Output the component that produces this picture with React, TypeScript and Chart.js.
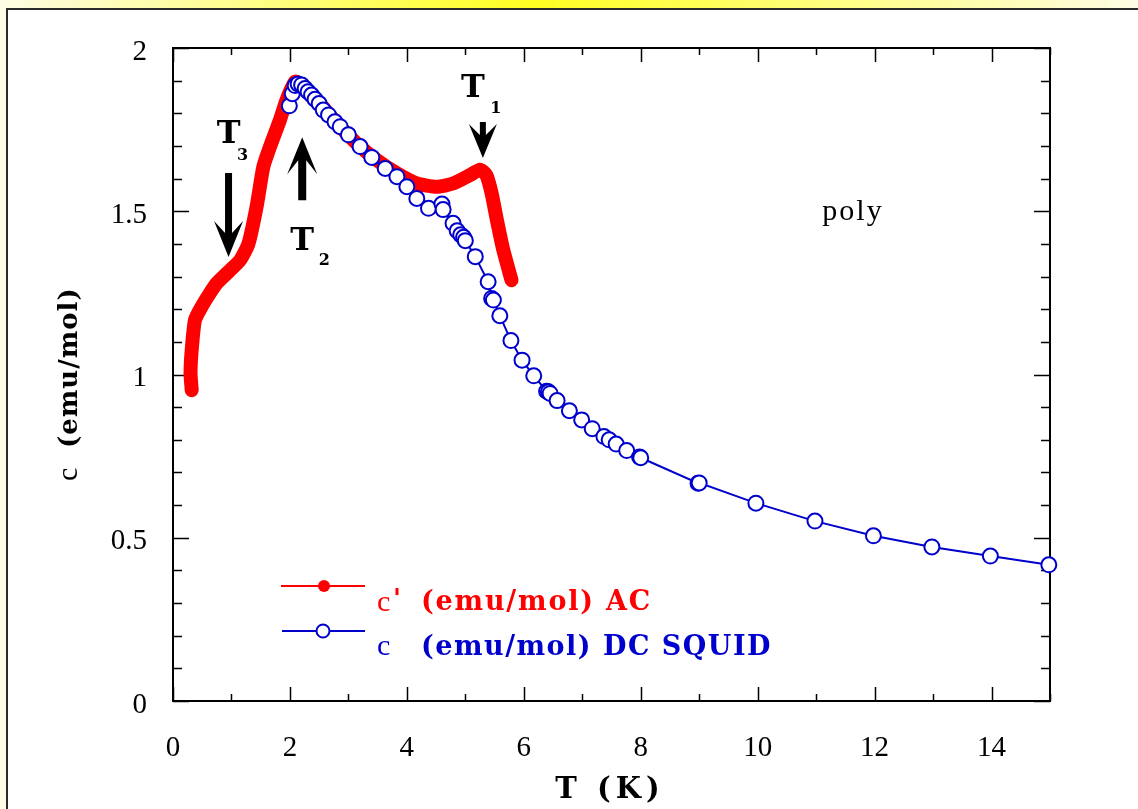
import React, { useEffect, useRef } from "react";
import { Chart, registerables } from "chart.js";

Chart.register(...registerables);

// ---- data ----
const acT = [0.32, 0.3, 0.32, 0.376, 0.49, 0.63, 0.75, 0.95, 1.146, 1.29, 1.43, 1.545, 1.66, 1.83, 1.94, 2.09, 2.23, 2.51, 2.8, 3.14, 3.48, 3.83, 4.17, 4.51, 4.79, 5.08, 5.25, 5.36, 5.45, 5.54, 5.65, 5.79];
const acChi = [0.952, 1.004, 1.075, 1.167, 1.208, 1.249, 1.28, 1.315, 1.35, 1.4, 1.514, 1.636, 1.698, 1.78, 1.84, 1.897, 1.88, 1.83, 1.77, 1.708, 1.657, 1.616, 1.585, 1.575, 1.585, 1.611, 1.627, 1.611, 1.555, 1.473, 1.381, 1.289];

const dcT = [1.99, 2.04, 2.09, 2.14, 2.2, 2.26, 2.31, 2.37, 2.43, 2.5, 2.57, 2.66, 2.77, 2.86, 3.0, 3.2, 3.4, 3.63, 3.83, 4.0, 4.17, 4.37, 4.6, 4.62, 4.79, 4.86, 4.92, 4.97, 5.0, 5.17, 5.39, 5.45, 5.48, 5.59, 5.78, 5.97, 6.17, 6.39, 6.42, 6.45, 6.57, 6.78, 6.99, 7.17, 7.37, 7.46, 7.58, 7.76, 7.98, 8.0, 8.98, 9.0, 9.97, 10.98, 11.98, 12.98, 13.98, 14.98];
const dcChi = [1.823, 1.86, 1.885, 1.89, 1.887, 1.876, 1.866, 1.856, 1.843, 1.83, 1.81, 1.795, 1.774, 1.759, 1.734, 1.698, 1.665, 1.631, 1.606, 1.575, 1.539, 1.509, 1.522, 1.505, 1.463, 1.44, 1.428, 1.42, 1.41, 1.361, 1.284, 1.233, 1.228, 1.18, 1.104, 1.044, 0.996, 0.949, 0.947, 0.942, 0.92, 0.889, 0.861, 0.834, 0.81, 0.8, 0.787, 0.767, 0.747, 0.745, 0.667, 0.668, 0.606, 0.551, 0.506, 0.472, 0.444, 0.417];

const xTickValues = [0, 2, 4, 6, 8, 10, 12, 14];
const yTickValues = [0, 0.5, 1, 1.5, 2];
const xTitle = "T (K)";
const yTitleSymbol = "c";
const yTitleRest = "(emu/mol)";
const legendAC = "(emu/mol) AC";
const legendDC = "(emu/mol) DC SQUID";
const sampleLabel = "poly";

// transitions: label, subscript, arrow tip (T, chi), direction
const transitions = [
  { name: "T", sub: "3", tipT: 0.95, tipChi: 1.36, dir: "down" },
  { name: "T", sub: "2", tipT: 2.21, tipChi: 1.727, dir: "up" },
  { name: "T", sub: "1", tipT: 5.3, tipChi: 1.663, dir: "down" },
];

// pixel styling of the annotations (relative to arrow tip)
const annoStyle = [
  { tx: 0, ty: -114, sx: 14, sy: -97, w: 3.5, L: 84, n: 24, b: 14.5, bY: 36 },
  { tx: 0, ty: 113, sx: 22, sy: 128, w: 4, L: 63, n: 23, b: 15, bY: 37 },
  { tx: -10, ty: -61, sx: 13, sy: -45, w: 3, L: 36, n: 23, b: 14, bY: 34 },
];

const RED = "#ff0000";
const BLUE = "#0000cc";
const SERIF = '"Liberation Serif", "Times New Roman", serif';
const BOLDSERIF = '"DejaVu Serif", "Liberation Serif", serif';

const framePlugin = {
  id: "frame",
  beforeDraw(chart: any) {
    const { ctx, width, height } = chart;
    ctx.save();
    ctx.fillStyle = "#ffffff";
    ctx.fillRect(0, 0, width, height);
    const g = ctx.createLinearGradient(0, 0, width, 0);
    g.addColorStop(0, "#fdfce4");
    g.addColorStop(0.47, "#ffff22");
    g.addColorStop(1, "#fdfce4");
    ctx.fillStyle = g;
    ctx.fillRect(0, 0, width, 8);
    ctx.fillStyle = "#fdfce4";
    ctx.fillRect(0, 0, 6, height);
    ctx.strokeStyle = "#2a2a2a";
    ctx.lineWidth = 2;
    ctx.beginPath();
    ctx.moveTo(7, height + 5);
    ctx.lineTo(7, 9);
    ctx.lineTo(width + 5, 9);
    ctx.stroke();
    ctx.restore();
  },
  beforeDatasetsDraw(chart: any) {
    const { ctx, chartArea, scales } = chart;
    const { left, right, top, bottom } = chartArea;
    const x = scales.x;
    const y = scales.y;
    ctx.save();
    ctx.strokeStyle = "#000";
    ctx.lineWidth = 2;
    ctx.strokeRect(left, top, right - left, bottom - top);
    ctx.lineWidth = 1.5;
    ctx.beginPath();
    for (let i = 0; i <= 15; i++) {
      const px = Math.round(x.getPixelForValue(i)) + 0.5;
      const len = i % 2 === 0 ? 14 : 7;
      ctx.moveTo(px, bottom);
      ctx.lineTo(px, bottom - len);
      ctx.moveTo(px, top);
      ctx.lineTo(px, top + len);
    }
    for (let i = 0; i <= 20; i++) {
      const py = Math.round(y.getPixelForValue(i / 10)) + 0.5;
      const len = i % 5 === 0 ? 16 : 9;
      ctx.moveTo(left, py);
      ctx.lineTo(left + len, py);
      ctx.moveTo(right, py);
      ctx.lineTo(right - len, py);
    }
    ctx.stroke();
    ctx.restore();
  },
  afterDraw(chart: any) {
    const { ctx, scales } = chart;
    const x = scales.x;
    const y = scales.y;
    ctx.save();
    ctx.fillStyle = "#000";
    // x title
    ctx.font = `bold 29px ${BOLDSERIF}`;
    (ctx as any).letterSpacing = "5px";
    ctx.textAlign = "center";
    ctx.textBaseline = "alphabetic";
    ctx.fillText(xTitle, 610, 798);
    // y title
    ctx.save();
    ctx.translate(77, 481);
    ctx.rotate(-Math.PI / 2);
    ctx.textAlign = "left";
    (ctx as any).letterSpacing = "0px";
    ctx.font = `30px ${SERIF}`;
    ctx.fillText(yTitleSymbol, 0, 0);
    (ctx as any).letterSpacing = "1px";
    ctx.font = `bold 26px ${BOLDSERIF}`;
    ctx.fillText(yTitleRest, 33, 0);
    ctx.restore();

    // poly
    (ctx as any).letterSpacing = "2px";
    ctx.font = `30px ${SERIF}`;
    ctx.textAlign = "center";
    ctx.fillText(sampleLabel, x.getPixelForValue(11.63), y.getPixelForValue(1.5) + 9);

    // annotations
    transitions.forEach((t, i) => {
      const s = annoStyle[i];
      const px = x.getPixelForValue(t.tipT);
      const py = y.getPixelForValue(t.tipChi);
      const sg = t.dir === "down" ? 1 : -1;
      ctx.beginPath();
      const pts = [
        [-s.w, -s.L], [s.w, -s.L], [s.w, -s.n], [s.b, -s.bY], [0, 0], [-s.b, -s.bY], [-s.w, -s.n],
      ];
      pts.forEach(([dx, dy], k) => {
        const X = px + dx;
        const Y = py + dy * sg;
        if (k === 0) ctx.moveTo(X, Y);
        else ctx.lineTo(X, Y);
      });
      ctx.closePath();
      ctx.fill();
      (ctx as any).letterSpacing = "0px";
      ctx.textAlign = "center";
      ctx.font = `bold 32px ${BOLDSERIF}`;
      ctx.fillText(t.name, px + s.tx, py + s.ty);
      ctx.font = `bold 16px ${BOLDSERIF}`;
      ctx.fillText(t.sub, px + s.sx, py + s.sy);
    });

    // legend
    ctx.textAlign = "left";
    ctx.lineWidth = 2;
    ctx.strokeStyle = RED;
    ctx.beginPath();
    ctx.moveTo(281, 586);
    ctx.lineTo(365, 586);
    ctx.stroke();
    ctx.fillStyle = RED;
    ctx.beginPath();
    ctx.arc(324, 586, 6, 0, Math.PI * 2);
    ctx.fill();
    (ctx as any).letterSpacing = "0px";
    ctx.font = `30px ${SERIF}`;
    ctx.fillText("c", 377, 611);
    ctx.font = `bold 26px ${BOLDSERIF}`;
    ctx.fillText("'", 393, 607);
    (ctx as any).letterSpacing = "1.8px";
    ctx.font = `bold 27px ${BOLDSERIF}`;
    ctx.fillText(legendAC, 421, 610);

    ctx.strokeStyle = BLUE;
    ctx.beginPath();
    ctx.moveTo(282, 631);
    ctx.lineTo(365, 631);
    ctx.stroke();
    ctx.fillStyle = "#fff";
    ctx.beginPath();
    ctx.arc(323, 631, 6.5, 0, Math.PI * 2);
    ctx.fill();
    ctx.stroke();
    ctx.fillStyle = BLUE;
    (ctx as any).letterSpacing = "0px";
    ctx.font = `30px ${SERIF}`;
    ctx.fillText("c", 377, 655);
    (ctx as any).letterSpacing = "1.5px";
    ctx.font = `bold 27px ${BOLDSERIF}`;
    ctx.fillText(legendDC, 421, 655);
    ctx.restore();
  },
};

export default function App() {
  const ref = useRef<HTMLCanvasElement | null>(null);
  useEffect(() => {
    if (!ref.current) return;
    const chart = new Chart(ref.current, {
      type: "scatter",
      data: {
        datasets: [
          {
            label: "DC SQUID",
            data: dcT.map((t, i) => ({ x: t, y: dcChi[i] })),
            showLine: true,
            borderColor: BLUE,
            borderWidth: 2,
            pointRadius: 7.5,
            pointBorderWidth: 2,
            pointBackgroundColor: "#ffffff",
            pointBorderColor: BLUE,
            order: 1,
            clip: false,
          } as any,
          {
            label: "AC",
            data: acT.map((t, i) => ({ x: t, y: acChi[i] })),
            showLine: true,
            borderColor: RED,
            borderWidth: 14,
            pointRadius: 0,
            borderCapStyle: "round",
            borderJoinStyle: "round",
            tension: 0.2,
            order: 2,
            clip: false,
          } as any,
        ],
      },
      options: {
        animation: false,
        responsive: false,
        devicePixelRatio: 1,
        layout: { padding: { left: 0, top: 48, right: 88, bottom: 0 } },
        plugins: { legend: { display: false }, tooltip: { enabled: false } },
        events: [],
        scales: {
          x: {
            type: "linear",
            min: 0,
            max: 15,
            afterBuildTicks: (s: any) => {
              s.ticks = xTickValues.map((v) => ({ value: v }));
            },
            afterFit: (s: any) => {
              s.height = 108;
            },
            ticks: {
              font: { family: SERIF, size: 29 },
              color: "#000",
              padding: 30,
              maxRotation: 0,
              autoSkip: false,
              callback: (v: any) => String(v),
            },
            grid: { display: false, drawTicks: false },
            border: { display: false },
          },
          y: {
            type: "linear",
            min: 0,
            max: 2,
            afterBuildTicks: (s: any) => {
              s.ticks = yTickValues.map((v) => ({ value: v }));
            },
            afterFit: (s: any) => {
              s.width = 173;
            },
            ticks: {
              font: { family: SERIF, size: 29 },
              color: "#000",
              padding: 26,
              labelOffset: 4,
              autoSkip: false,
              callback: (v: any) => String(v),
            },
            grid: { display: false, drawTicks: false },
            border: { display: false },
          },
        },
      },
      plugins: [framePlugin],
    });
    return () => chart.destroy();
  }, []);
  return (
    <div style={{ position: "fixed", left: 0, top: 0, width: 1138, height: 809 }}>
      <canvas ref={ref} width={1138} height={809} style={{ display: "block" }} />
    </div>
  );
}
